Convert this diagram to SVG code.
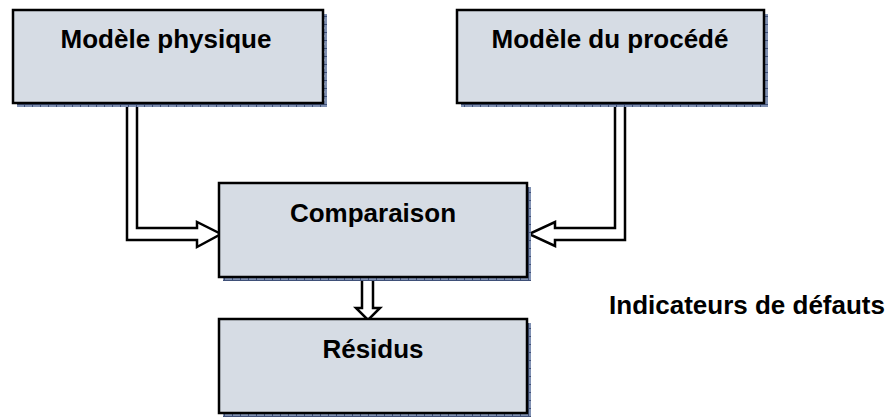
<svg xmlns="http://www.w3.org/2000/svg" width="887" height="417" viewBox="0 0 887 417">
<style>
.box{fill:#d6dce4;stroke:#000;stroke-width:2.5}
.shadow{fill:url(#sh)}
.lbl{font-family:"Liberation Sans",Arial,sans-serif;font-weight:bold;font-size:26px;fill:#000}
.arrow{fill:#fff;stroke:#000;stroke-width:2.5;stroke-linejoin:miter}
</style>
<defs>
<pattern id="sh" width="8" height="8" patternUnits="userSpaceOnUse">
<rect width="8" height="8" fill="#7f90b2"/>
<rect x="0" y="0" width="1" height="8" fill="#3f5078"/>
<rect x="0" y="0" width="8" height="1" fill="#3f5078"/>
<rect x="3" y="3" width="2" height="2" fill="#a8b6d0"/>
</pattern>
</defs>
<g id="connectors">
<path class="arrow" d="M127,103 L127,240 L197,240 L197,247 L221,234 L197,222 L197,228 L137,228 L137,103"/>
<path class="arrow" d="M625,103 L625,240 L555,240 L555,246 L529,234 L555,222 L555,228 L615,228 L615,103"/>
<path class="arrow" d="M362,279 L362,308 L356,308 L368,320 L380,308 L373,308 L373,279"/>
</g>
<g id="modele-physique">
<rect class="shadow" x="17" y="14" width="310" height="93"/>
<rect class="box" x="13" y="10" width="310" height="93"/>
<text class="lbl" x="166" y="48" text-anchor="middle">Modèle physique</text>
</g>
<g id="modele-procede">
<rect class="shadow" x="461" y="14" width="307" height="93"/>
<rect class="box" x="457" y="10" width="307" height="93"/>
<text class="lbl" x="610" y="48" text-anchor="middle">Modèle du procédé</text>
</g>
<g id="comparaison">
<rect class="shadow" x="223" y="187" width="308" height="94"/>
<rect class="box" x="219" y="183" width="308" height="94"/>
<text class="lbl" x="373" y="222" text-anchor="middle">Comparaison</text>
</g>
<g id="residus">
<rect class="shadow" x="223" y="323" width="308" height="94"/>
<rect class="box" x="219" y="319" width="308" height="94"/>
<text class="lbl" x="373" y="358" text-anchor="middle">Résidus</text>
</g>
<g id="indicateurs">
<text class="lbl" x="885" y="314" text-anchor="end">Indicateurs de défauts</text>
</g>
</svg>
